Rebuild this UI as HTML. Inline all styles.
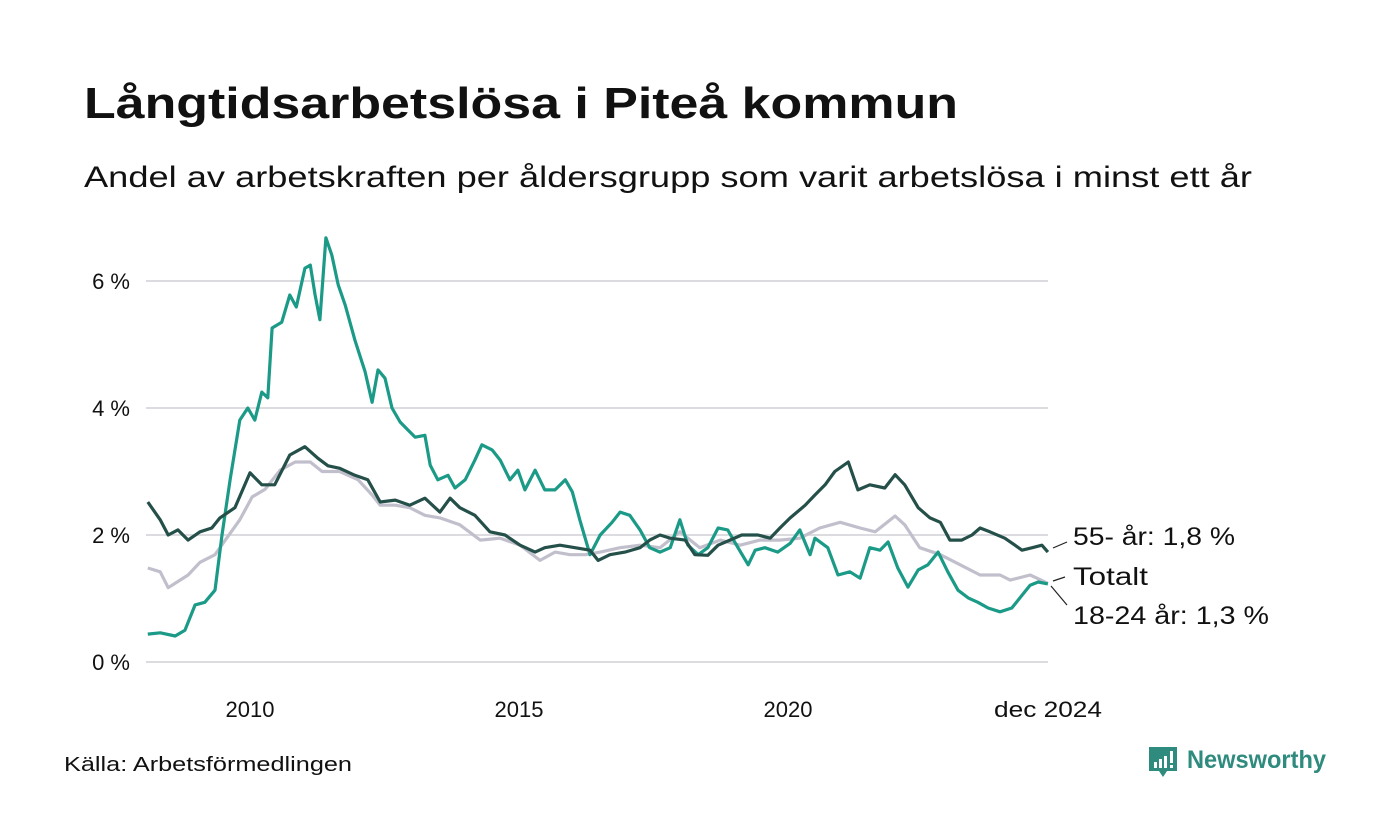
<!DOCTYPE html>
<html><head><meta charset="utf-8">
<style>
body{margin:0;background:#fff;font-family:"Liberation Sans","DejaVu Sans",sans-serif;}
svg{display:block}
</style></head>
<body>
<svg id="chart" width="1400" height="840" viewBox="0 0 1400 840">
<text x="84" y="118" font-size="44" font-weight="bold" fill="#111" textLength="874" lengthAdjust="spacingAndGlyphs">Långtidsarbetslösa i Piteå kommun</text>
<text x="84" y="187" font-size="30" fill="#111" textLength="1168" lengthAdjust="spacingAndGlyphs">Andel av arbetskraften per åldersgrupp som varit arbetslösa i minst ett år</text>
<g id="grid"></g>
<g id="series"></g>
<g id="labels"></g>
<text x="64" y="771" font-size="20" fill="#111" textLength="288" lengthAdjust="spacingAndGlyphs">Källa: Arbetsförmedlingen</text>
<g>
<path d="M1149 747h28v24h-10l-4 6-4-6h-10z" fill="#2e8b7e"/>
<rect x="1154" y="762" width="3" height="6" fill="#fff"/><rect x="1159" y="759" width="3" height="9" fill="#fff"/><rect x="1164" y="756" width="3" height="12" fill="#fff"/><rect x="1170" y="751" width="3" height="12" fill="#fff"/><rect x="1170" y="765" width="3" height="3" fill="#fff"/>
<text x="1187" y="768" font-size="25" font-weight="bold" fill="#2e8b7e" textLength="139" lengthAdjust="spacingAndGlyphs">Newsworthy</text>
</g>
</svg>
<script>
const yTicks=[0,2,4,6];
const xTicks=[2010,2015,2020];
const dates1824=[2008.10,2008.33,2008.61,2008.79,2008.98,2009.16,2009.35,2009.48,2009.63,2009.81,2009.96,2010.09,2010.22,2010.33,2010.41,2010.59,2010.74,2010.86,2011.02,2011.12,2011.21,2011.30,2011.41,2011.52,2011.64,2011.77,2011.95,2012.14,2012.27,2012.38,2012.51,2012.64,2012.79,2012.94,2013.07,2013.25,2013.35,2013.49,2013.68,2013.81,2014.00,2014.18,2014.31,2014.50,2014.65,2014.83,2014.98,2015.11,2015.30,2015.48,2015.67,2015.86,2015.99,2016.13,2016.32,2016.51,2016.73,2016.88,2017.06,2017.25,2017.43,2017.62,2017.81,2017.99,2018.14,2018.33,2018.51,2018.70,2018.88,2019.07,2019.26,2019.39,2019.57,2019.81,2020.04,2020.22,2020.41,2020.50,2020.74,2020.93,2021.15,2021.34,2021.52,2021.71,2021.86,2022.04,2022.23,2022.42,2022.60,2022.79,2022.97,2023.16,2023.35,2023.53,2023.72,2023.94,2024.16,2024.31,2024.50,2024.65,2024.83];
const vals1824=[.44,.46,.41,.50,.90,.94,1.13,2.0,2.87,3.81,4.0,3.81,4.25,4.16,5.26,5.35,5.78,5.59,6.2,6.25,5.78,5.39,6.68,6.41,5.94,5.62,5.07,4.57,4.09,4.6,4.47,4.0,3.78,3.65,3.54,3.57,3.1,2.87,2.94,2.74,2.87,3.18,3.42,3.34,3.18,2.87,3.02,2.71,3.02,2.71,2.71,2.87,2.68,2.24,1.69,2.0,2.2,2.36,2.31,2.08,1.8,1.73,1.8,2.24,1.84,1.69,1.8,2.11,2.08,1.8,1.53,1.76,1.8,1.73,1.87,2.08,1.69,1.95,1.8,1.37,1.42,1.32,1.8,1.76,1.89,1.48,1.18,1.45,1.53,1.73,1.42,1.13,1.01,.94,.85,.79,.85,1.01,1.21,1.26,1.23];
const datesTot=[2008.10,2008.33,2008.48,2008.70,2008.85,2009.07,2009.35,2009.54,2009.81,2010.04,2010.28,2010.56,2010.84,2011.12,2011.34,2011.67,2012.01,2012.27,2012.42,2012.70,2012.97,2013.25,2013.53,2013.90,2014.28,2014.65,2015.02,2015.39,2015.67,2015.95,2016.23,2016.51,2016.88,2017.25,2017.62,2017.99,2018.36,2018.74,2019.11,2019.48,2019.85,2020.22,2020.59,2020.97,2021.34,2021.62,2021.99,2022.17,2022.45,2022.83,2023.20,2023.57,2023.94,2024.13,2024.50,2024.83];
const valsTot=[1.48,1.42,1.17,1.29,1.37,1.57,1.69,1.92,2.24,2.6,2.72,3.02,3.15,3.15,3.0,3.0,2.87,2.63,2.47,2.47,2.43,2.31,2.27,2.16,1.92,1.95,1.84,1.6,1.73,1.69,1.69,1.73,1.8,1.84,1.8,2.05,1.8,1.92,1.84,1.92,1.92,1.95,2.11,2.2,2.11,2.05,2.3,2.16,1.8,1.69,1.53,1.37,1.37,1.29,1.37,1.24];
const dates55=[2008.10,2008.33,2008.48,2008.66,2008.85,2009.07,2009.29,2009.44,2009.72,2010.0,2010.22,2010.46,2010.74,2011.02,2011.26,2011.45,2011.67,2011.95,2012.19,2012.42,2012.70,2012.97,2013.25,2013.53,2013.72,2013.90,2014.18,2014.46,2014.74,2015.02,2015.30,2015.48,2015.76,2016.04,2016.32,2016.47,2016.69,2016.97,2017.25,2017.43,2017.62,2017.81,2018.09,2018.27,2018.51,2018.70,2018.92,2019.14,2019.44,2019.67,2019.85,2020.04,2020.32,2020.50,2020.69,2020.87,2021.12,2021.30,2021.52,2021.80,2021.99,2022.17,2022.42,2022.64,2022.83,2023.01,2023.23,2023.42,2023.57,2023.75,2024.03,2024.22,2024.35,2024.54,2024.72,2024.83];
const vals55=[2.52,2.24,2.0,2.08,1.92,2.05,2.11,2.27,2.43,2.98,2.79,2.79,3.26,3.39,3.21,3.09,3.05,2.94,2.87,2.52,2.55,2.47,2.58,2.36,2.58,2.43,2.31,2.05,2.0,1.84,1.73,1.8,1.84,1.8,1.76,1.6,1.69,1.73,1.8,1.92,2.0,1.95,1.92,1.69,1.68,1.84,1.92,2.0,2.0,1.95,2.11,2.27,2.47,2.63,2.79,3.0,3.15,2.71,2.79,2.74,2.95,2.79,2.43,2.27,2.2,1.92,1.92,2.0,2.11,2.05,1.95,1.84,1.76,1.8,1.84,1.73];

const NS="http://www.w3.org/2000/svg";
const xS=d=>250+(d-2010)*53.8;
const yS=v=>662-v*63.5;
function mk(tag,attrs,parent){const e=document.createElementNS(NS,tag);for(const k in attrs)e.setAttribute(k,attrs[k]);parent.appendChild(e);return e;}
const grid=document.getElementById('grid');
yTicks.forEach(t=>{
  const l=mk('line',{x1:146,x2:1048,y1:yS(t),y2:yS(t),stroke:'#dcdce0','stroke-width':2},grid);
  
  
  const tx=mk('text',{x:130,y:yS(t)+8,'text-anchor':'end','font-size':22,fill:'#111'},grid);
  tx.textContent=t+' %';
  
  
});
xTicks.forEach(t=>{
  const tx=mk('text',{x:xS(t),y:717,'text-anchor':'middle','font-size':22,fill:'#111'},grid);
  tx.textContent=t;
  
  
});
const last=mk('text',{x:1048,y:717,'text-anchor':'middle','font-size':22,fill:'#111',textLength:108,lengthAdjust:'spacingAndGlyphs'},grid);
last.textContent='dec 2024';



const ser=document.getElementById('series');
function line(ds,vs,col,name){
  const p=mk('path',{d:ds.map((d,i)=>(i?'L':'M')+xS(d).toFixed(1)+' '+yS(vs[i]).toFixed(1)).join(''),fill:'none',stroke:col,'stroke-width':3.2,'stroke-linejoin':'round'},ser);
  
  
}
line(datesTot,valsTot,'#c2bfcc','line-totalt');
line(dates1824,vals1824,'#1b9a87','line-18-24');
line(dates55,vals55,'#25504a','line-55');

const lab=document.getElementById('labels');
mk('line',{x1:1053,y1:548,x2:1067,y2:542,stroke:'#222','stroke-width':1.2},lab);
mk('line',{x1:1053,y1:581,x2:1065,y2:577,stroke:'#222','stroke-width':1.2},lab);
mk('line',{x1:1051,y1:586,x2:1067,y2:605,stroke:'#222','stroke-width':1.2},lab);
[['55- år: 1,8 %',545,'label-55',162],['Totalt',585,'label-totalt',75],['18-24 år: 1,3 %',624,'label-18-24',196]].forEach(a=>{
  const t=mk('text',{x:1073,y:a[1],'font-size':25,fill:'#111',textLength:a[3],lengthAdjust:'spacingAndGlyphs'},lab);
  t.textContent=a[0];
  
  
});
</script>
</body></html>
